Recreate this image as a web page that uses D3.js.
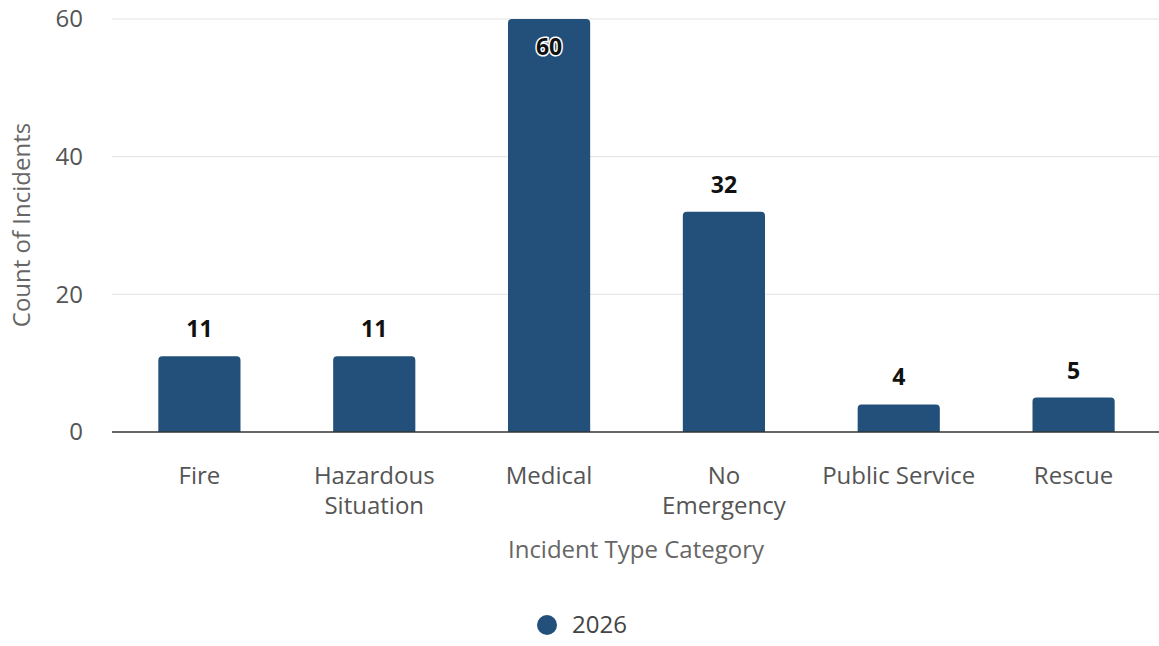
<!DOCTYPE html>
<html><head><meta charset="utf-8">
<script src="https://cdn.jsdelivr.net/npm/d3@7"></script>
<style>body{margin:0;background:#fff;} text{font-family:"Open Sans","Noto Sans",sans-serif;}</style>
</head><body>
<svg id="c" width="1159" height="646"></svg>
<script>
const categories = ["Fire", "Hazardous Situation", "Medical", "No Emergency", "Public Service", "Rescue"];
const categoryLines = [["Fire"], ["Hazardous", "Situation"], ["Medical"], ["No", "Emergency"], ["Public Service"], ["Rescue"]];
const values2026 = [11, 11, 60, 32, 4, 5];
const yTicks = [0, 20, 40, 60];
const seriesName = "2026";

const svg = d3.select("#c");
const W = 1159, left = 112;
const x = d3.scaleBand().domain(categories).range([left, 1161]).paddingInner(0.53).paddingOuter(0.265);
const y = d3.scaleLinear().domain([0, 60]).range([432, 19]);
const color = "#22507a";
const fs = 24;

// grid
svg.append("g").selectAll("line").data(yTicks.filter(d => d > 0)).join("line")
  .attr("x1", left).attr("x2", W).attr("y1", d => y(d)).attr("y2", d => y(d))
  .attr("stroke", "#e3e3e3").attr("stroke-width", 1);

// y tick labels
svg.append("g").selectAll("text").data(yTicks).join("text")
  .attr("x", 83).attr("y", d => y(d)).attr("dy", "0.35em").attr("text-anchor", "end")
  .attr("fill", "#555").attr("font-size", fs).text(d => d);

// bars with rounded top corners
const r = 4;
svg.append("g").selectAll("path").data(values2026).join("path")
  .attr("fill", color)
  .attr("d", (d, i) => {
    const x0 = x(categories[i]), w = x.bandwidth(), y0 = y(d), yb = y(0);
    return `M${x0},${yb}V${y0 + r}Q${x0},${y0} ${x0 + r},${y0}H${x0 + w - r}Q${x0 + w},${y0} ${x0 + w},${y0 + r}V${yb}Z`;
  });

// baseline
svg.append("line").attr("x1", left).attr("x2", W).attr("y1", y(0)).attr("y2", y(0))
  .attr("stroke", "#333").attr("stroke-width", 1.5);

// value labels
svg.append("g").selectAll("text").data(values2026).join("text")
  .attr("x", (d, i) => x(categories[i]) + x.bandwidth() / 2)
  .attr("y", d => d >= 55 ? y(d) + 36 : y(d) - 19)
  .attr("text-anchor", "middle").attr("font-size", 23).attr("font-weight", "bold")
  .attr("fill", "#111")
  .attr("stroke", d => d >= 55 ? "#fff" : "none").attr("stroke-width", 3)
  .attr("paint-order", "stroke")
  .text(d => d);

// x labels
const xl = svg.append("g").selectAll("text").data(categories).join("text")
  .attr("x", d => x(d) + x.bandwidth() / 2).attr("y", 484)
  .attr("text-anchor", "middle").attr("font-size", fs).attr("fill", "#555");
xl.each(function(d, i) {
  d3.select(this).selectAll("tspan").data(categoryLines[i]).join("tspan")
    .attr("x", x(d) + x.bandwidth() / 2).attr("dy", (t, j) => j ? 30 : 0).text(t => t);
});

// axis titles
svg.append("text").attr("x", 636).attr("y", 558).attr("text-anchor", "middle")
  .attr("font-size", fs).attr("fill", "#666").text("Incident Type Category");
svg.append("text").attr("transform", "translate(30,225) rotate(-90)").attr("text-anchor", "middle")
  .attr("font-size", fs).attr("fill", "#666").text("Count of Incidents");

// legend
svg.append("circle").attr("cx", 547).attr("cy", 625).attr("r", 10).attr("fill", color);
svg.append("text").attr("x", 572).attr("y", 625).attr("dy", "0.35em")
  .attr("font-size", fs).attr("fill", "#444").text(seriesName);
</script>
</body></html>
